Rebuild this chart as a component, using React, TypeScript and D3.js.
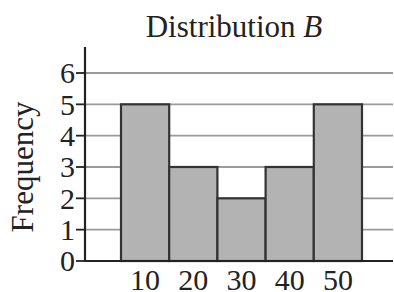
import * as d3 from 'd3';

const binCenters = [10, 20, 30, 40, 50];
const frequencies = [5, 3, 2, 3, 5];
const yTicks = [0, 1, 2, 3, 4, 5, 6];

const W = 394;
const H = 292;
const FONT = '"Liberation Serif", "Times New Roman", serif';

export default function App() {
  const x = d3.scaleLinear().domain([5, 55]).range([121, 362]);
  const y = d3.scaleLinear().domain([0, 6]).range([261, 73]);
  const axisX = 85;
  const gridRight = 393;
  const binW = x(15) - x(5);

  return (
    <svg
      width={W}
      height={H}
      style={{ position: 'absolute', left: 0, top: 0, background: '#fff' }}
    >
      {/* gridlines */}
      {yTicks.slice(1).map((t) => (
        <line
          key={'g' + t}
          x1={axisX}
          x2={gridRight}
          y1={y(t)}
          y2={y(t)}
          stroke="#9a9a9a"
          strokeWidth={1.8}
        />
      ))}

      {/* bars */}
      {binCenters.map((c, i) => (
        <rect
          key={c}
          x={x(c) - binW / 2}
          y={y(frequencies[i])}
          width={binW}
          height={y(0) - y(frequencies[i])}
          fill="#b3b3b3"
          stroke="#333"
          strokeWidth={2.2}
        />
      ))}

      {/* axes */}
      <line x1={axisX} x2={gridRight} y1={y(0)} y2={y(0)} stroke="#222" strokeWidth={2.2} />
      <line x1={axisX} x2={axisX} y1={47} y2={y(0)} stroke="#222" strokeWidth={2.2} />

      {yTicks.map((t) => (
        <g key={'t' + t}>
          <line x1={axisX - 9} x2={axisX} y1={y(t)} y2={y(t)} stroke="#222" strokeWidth={1.8} />
          <text
            x={axisX - 10}
            y={y(t)}
            dy="0.34em"
            textAnchor="end"
            fontFamily={FONT}
            fontSize={30}
            fill="#222"
          >
            {t}
          </text>
        </g>
      ))}

      {binCenters.map((c) => (
        <text
          key={'x' + c}
          x={x(c)}
          y={290}
          textAnchor="middle"
          fontFamily={FONT}
          fontSize={30}
          fill="#222"
        >
          {c}
        </text>
      ))}

      <text
        transform={`translate(33, 167) rotate(-90)`}
        textAnchor="middle"
        fontFamily={FONT}
        fontSize={31}
        fill="#222"
      >
        Frequency
      </text>

      <text x={234} y={37} textAnchor="middle" fontFamily={FONT} fontSize={31} fill="#222">
        Distribution <tspan fontStyle="italic">B</tspan>
      </text>
    </svg>
  );
}
